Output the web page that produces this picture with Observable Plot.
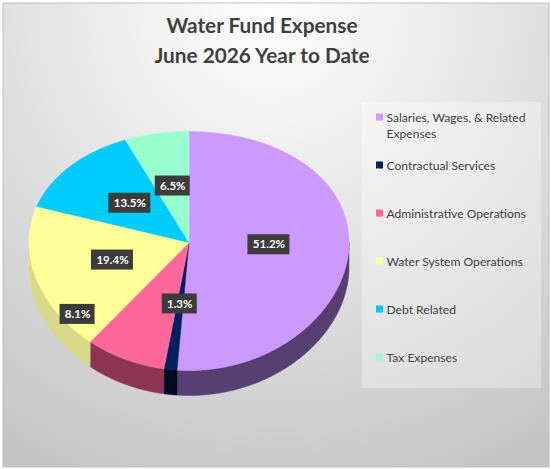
<!DOCTYPE html>
<html>
<head>
<meta charset="utf-8">
<script src="https://cdn.jsdelivr.net/npm/d3@7"></script>
<script src="https://cdn.jsdelivr.net/npm/@observablehq/plot@0.6"></script>
<style>
  body { margin: 0; background: #ffffff; }
  svg { display: block; }
</style>
</head>
<body>
<div id="chart"></div>
<script>
// ---------- data ----------
const titleText = "Water Fund Expense\nJune 2026 Year to Date";
const categories = [
  "Salaries, Wages, & Related Expenses",
  "Contractual Services",
  "Administrative Operations",
  "Water System Operations",
  "Debt Related",
  "Tax Expenses"
];
const legendLabels = [
  "Salaries, Wages, & Related\nExpenses",
  "Contractual Services",
  "Administrative Operations",
  "Water System Operations",
  "Debt Related",
  "Tax Expenses"
];
const shares = [51.2, 1.3, 8.1, 19.4, 13.5, 6.5];
const shareLabels = ["51.2%", "1.3%", "8.1%", "19.4%", "13.5%", "6.5%"];

// ---------- style ----------
const topColors = ["#cc99ff", "#002060", "#ff6699", "#ffff99", "#00ccff", "#99ffcc"];
const sideColors = ["#573f72", "#000b22", "#8e3453", "#d8d888", "#007a99", "#5c9979"];
const W = 551, H = 469;
const cx = 188.5, cy = 242, rx = 160, ryTop = 119.5, persp = 8.5, depth = 25;
const labelOverride = { 2: { angle: 230.3, r: 0.905 } };
const legend = { x: 376, top: 117, step: 48, box: [362, 541, 102, 388] };
const FONT = "Lato, 'Open Sans', sans-serif";

function project(theta, r = 1) {
  const u = r * Math.sin(theta), v = -r * Math.cos(theta);
  return [cx + rx * u, cy + ryTop * v + persp * v * v];
}
const rad = (deg) => deg * Math.PI / 180;

const arcs = d3.pie().sort(null).value(d => d)(shares);

// top faces
const topRows = [];
arcs.forEach((a, i) => {
  const n = Math.max(3, Math.ceil((a.endAngle - a.startAngle) / rad(0.5)));
  const [x0, y0] = project(0, 0);
  topRows.push({ id: "t" + i, x: x0, y: y0, fill: topColors[i] });
  for (let k = 0; k <= n; k++) {
    const t = a.startAngle + (a.endAngle - a.startAngle) * k / n;
    const [x, y] = project(t);
    topRows.push({ id: "t" + i, x, y, fill: topColors[i] });
  }
  topRows.push({ id: "t" + i, x: x0, y: y0, fill: topColors[i] });
});

// side walls (front half only), one polygon per slice
const sideRows = [];
const lo = Math.PI / 2, hi = 3 * Math.PI / 2;
arcs.forEach((a, i) => {
  const t0 = Math.max(a.startAngle, lo), t1 = Math.min(a.endAngle, hi);
  if (t1 <= t0) return;
  const n = Math.max(2, Math.ceil((t1 - t0) / rad(0.5)));
  const id = "s" + i, fill = sideColors[i];
  const pts = [];
  for (let k = 0; k <= n; k++) pts.push(project(t0 + (t1 - t0) * k / n));
  pts.forEach(([x, y]) => sideRows.push({ id, x, y, fill }));
  pts.slice().reverse().forEach(([x, y]) => sideRows.push({ id, x, y: y + depth, fill }));
  sideRows.push({ id, x: pts[0][0], y: pts[0][1], fill });
});

// soft shadow under the pie
const shadowRows = [];
for (let d = -90; d <= 90; d += 2) { const [x, y] = project(rad(d)); shadowRows.push({ x: x + 1, y: y + 5 }); }
for (let d = 90; d <= 270; d += 2) { const [x, y] = project(rad(d)); shadowRows.push({ x: x + 1, y: y + depth + 6 }); }

// data labels
const labelRows = arcs.map((a, i) => {
  const o = labelOverride[i];
  const t = o ? rad(o.angle) : (a.startAngle + a.endAngle) / 2;
  const [x, y] = project(t, o ? o.r : 0.5);
  const w = 7 * shareLabels[i].length + 7;
  return { x, y, x1: x - w / 2, x2: x + w / 2, y1: y - 10, y2: y + 10, text: shareLabels[i] };
});

// legend
const legendRows = categories.map((c, i) => {
  const y = legend.top + i * legend.step;
  return { y, x1: legend.x, x2: legend.x + 7, y1: y - 3.5, y2: y + 3.5, fill: topColors[i], text: legendLabels[i] };
});

const plot = Plot.plot({
  width: W, height: H,
  margin: 0,
  x: { domain: [0, W], range: [0, W], axis: null },
  y: { domain: [0, H], range: [0, H], axis: null },
  color: { type: "identity" },
  style: { fontFamily: FONT, background: "#ffffff", overflow: "visible" },
  marks: [
    Plot.frame({ fill: "url(#bgGrad)", stroke: "#bfbfbf", strokeWidth: 1, inset: 2.5 }),
    Plot.rect([legend.box], { x1: d => d[0], x2: d => d[1], y1: d => d[2], y2: d => d[3], fill: "#ffffff", fillOpacity: 0.32 }),
    Plot.line(shadowRows, { x: "x", y: "y", fill: "#000000", fillOpacity: 0.55, stroke: "none", ariaLabel: "pie shadow" }),
    Plot.line(sideRows, { x: "x", y: "y", z: "id", fill: "fill", stroke: "fill", strokeWidth: 0.5 }),
    Plot.line(topRows, { x: "x", y: "y", z: "id", fill: "fill", stroke: "fill", strokeWidth: 0.5 }),
    Plot.rect(labelRows, { x1: "x1", x2: "x2", y1: "y1", y2: "y2", fill: "#3c3c3c", ariaLabel: "label boxes" }),
    Plot.text(labelRows, { x: "x", y: "y", text: "text", fill: "#ffffff", fontWeight: "bold", fontSize: 11.5, lineAnchor: "middle" }),
    Plot.rect(legendRows, { x1: "x1", x2: "x2", y1: "y1", y2: "y2", fill: "fill" }),
    Plot.text(legendRows, { x: d => d.x2 + 3, y: "y", text: "text", textAnchor: "start", lineAnchor: "top", dy: -8, lineHeight: 1.4, fill: "#404040", fontSize: 12.1 }),
    Plot.text([titleText], { frameAnchor: "top", dx: -14, dy: 12, lineAnchor: "top", lineHeight: 1.42, fill: "#404040", fontWeight: "bold", fontSize: 20.8 })
  ]
});

const svg = d3.select(plot);
const defs = svg.insert("defs", ":first-child");
const grad = defs.append("radialGradient").attr("id", "bgGrad")
  .attr("gradientUnits", "userSpaceOnUse").attr("cx", 270).attr("cy", 10).attr("r", 520);
grad.append("stop").attr("offset", 0).attr("stop-color", "#ffffff");
grad.append("stop").attr("offset", 1).attr("stop-color", "#c3c3c3");
defs.append("filter").attr("id", "blur").attr("x", "-20%").attr("y", "-20%").attr("width", "140%").attr("height", "140%")
  .append("feGaussianBlur").attr("stdDeviation", 5);
defs.append("filter").attr("id", "drop").attr("x", "-30%").attr("y", "-30%").attr("width", "160%").attr("height", "160%")
  .append("feDropShadow").attr("dx", 1).attr("dy", 1.5).attr("stdDeviation", 1.3).attr("flood-opacity", 0.45);
svg.select('g[aria-label="pie shadow"]').attr("filter", "url(#blur)");
svg.select('g[aria-label="label boxes"]').attr("filter", "url(#drop)");

document.getElementById("chart").appendChild(plot);
</script>
</body>
</html>
